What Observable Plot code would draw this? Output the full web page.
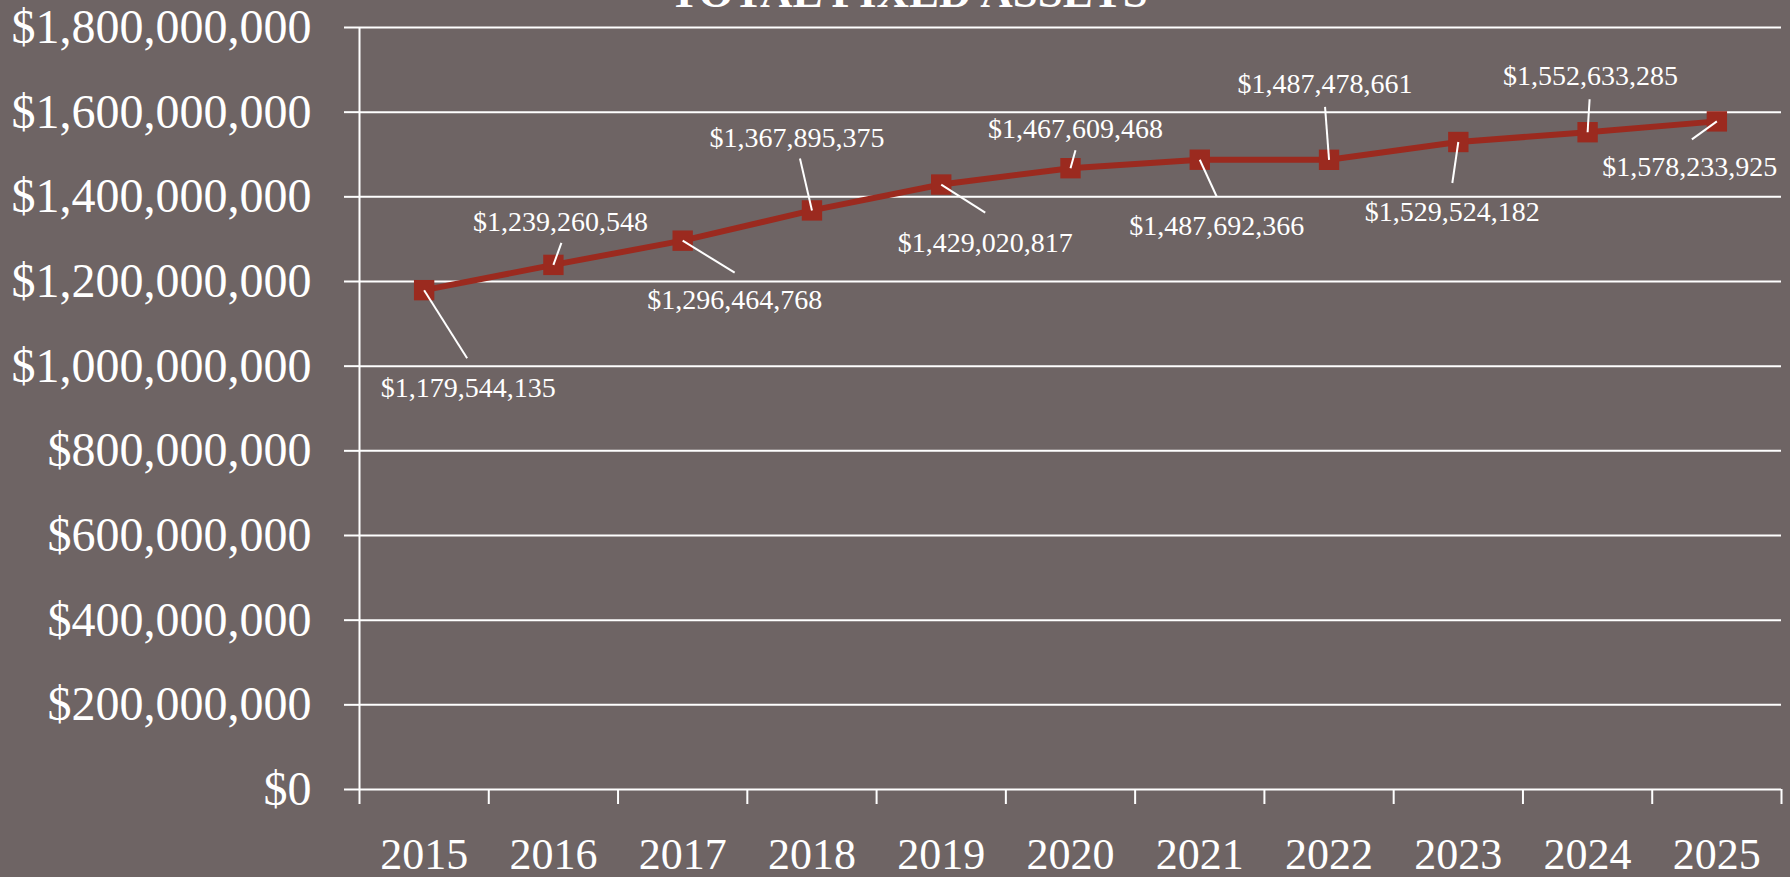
<!DOCTYPE html>
<html>
<head>
<meta charset="utf-8">
<script src="https://cdn.jsdelivr.net/npm/d3@7"></script>
<script src="https://cdn.jsdelivr.net/npm/@observablehq/plot@0.6"></script>
<style>
  html, body { margin: 0; padding: 0; background: #6e6464; overflow: hidden; }
</style>
</head>
<body>
<div id="chart"></div>
<script>
const title = "TOTAL FIXED ASSETS";
const years = [2015, 2016, 2017, 2018, 2019, 2020, 2021, 2022, 2023, 2024, 2025];
const values = [1179544135, 1239260548, 1296464768, 1367895375, 1429020817, 1467609468, 1487692366, 1487478661, 1529524182, 1552633285, 1578233925];
const yTicks = [0, 200000000, 400000000, 600000000, 800000000, 1000000000, 1200000000, 1400000000, 1600000000, 1800000000];
const xBoundaries = [2014.5, 2015.5, 2016.5, 2017.5, 2018.5, 2019.5, 2020.5, 2021.5, 2022.5, 2023.5, 2024.5, 2025.5];

// label placement offsets in pixels relative to each point (layout only)
const labelDx = [44, 7, 52, -15, 44, 5, 17, -4, -6, 3, -27];
const labelDy = [98, -43, 59, -72, 58, -39, 66, -76, 70, -56, 46];
const leaderDx = [43, 8, 52, -12, 44, 5, 17, -4, -6, 2, -25];
const leaderDy = [68, -22, 32, -52, 28, -18, 37, -53, 41, -33, 18];

const W = 1790, H = 877;
const mL = 359, mR = 9, mT = 27, mB = 88;
const xDomain = [2014.5, 2025.5];
const yDomain = [0, 1800000000];
const pxPerX = (W - mL - mR) / (xDomain[1] - xDomain[0]);
const pxPerY = (H - mT - mB) / (yDomain[1] - yDomain[0]);

const data = years.map((year, i) => ({
  year,
  value: values[i],
  lx: year + labelDx[i] / pxPerX,
  ly: values[i] - labelDy[i] / pxPerY,
  ex: year + leaderDx[i] / pxPerX,
  ey: values[i] - leaderDy[i] / pxPerY
}));

const money = d => "$" + d3.format(",")(d);
const lineColor = "#9b2a1f";

const chart = Plot.plot({
  width: W,
  height: H,
  marginLeft: mL,
  marginRight: mR,
  marginTop: mT,
  marginBottom: mB,
  x: {domain: xDomain, axis: null},
  y: {domain: yDomain, axis: null},
  style: {background: "#6e6464", color: "white", fontFamily: "'Liberation Serif', serif", overflow: "visible"},
  marks: [
    Plot.gridY(yTicks, {stroke: "white", strokeOpacity: 1, strokeWidth: 2}),
    Plot.axisY({ticks: yTicks, tickSize: 15, tickPadding: 33, tickFormat: money, fontSize: 48, color: "white", strokeWidth: 2, label: null}),
    Plot.ruleX([xDomain[0]], {y1: yDomain[0], y2: yDomain[1], stroke: "white", strokeWidth: 2}),
    Plot.axisX({ticks: xBoundaries, tickSize: 15, tickFormat: () => "", color: "white", strokeWidth: 2, label: null}),
    Plot.axisX({ticks: years, tickSize: 0, tickPadding: 48, tickFormat: d => String(d), fontSize: 44, color: "white", label: null}),
    Plot.line(data, {x: "year", y: "value", stroke: lineColor, strokeWidth: 6}),
    Plot.dot(data, {x: "year", y: "value", symbol: "square", r: 11.5, fill: lineColor, stroke: "none"}),
    Plot.link(data, {x1: "year", y1: "value", x2: "ex", y2: "ey", stroke: "white", strokeWidth: 2}),
    Plot.text(data, {x: "lx", y: "ly", text: d => money(d.value), fill: "white", fontSize: 28}),
    Plot.text([title], {frameAnchor: "top", dx: -162, dy: -21, lineAnchor: "bottom", fontSize: 45, fontWeight: "bold", fill: "white"})
  ]
});
document.getElementById("chart").appendChild(chart);
</script>
</body>
</html>
